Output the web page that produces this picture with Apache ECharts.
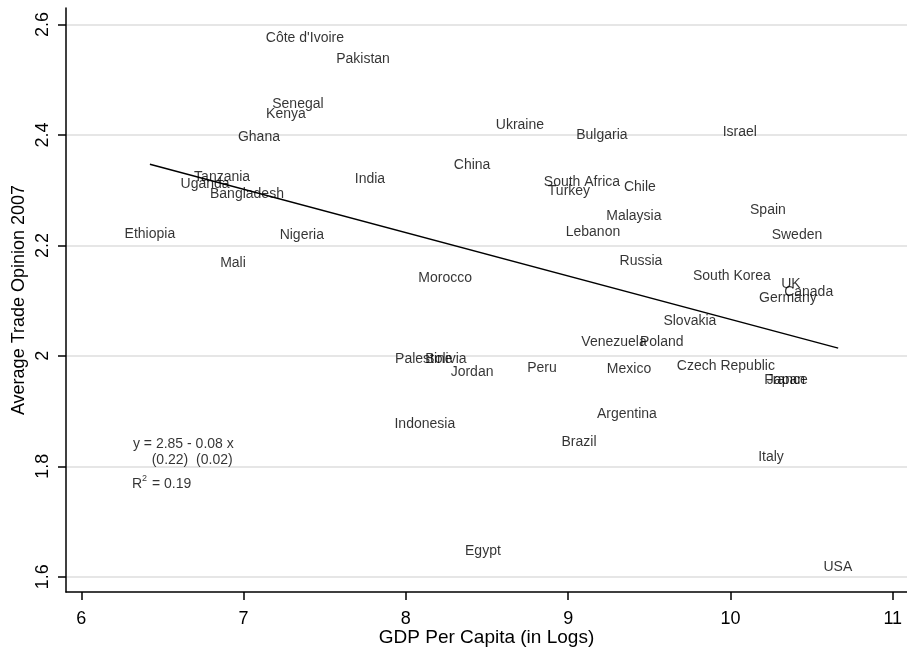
<!DOCTYPE html>
<html>
<head>
<meta charset="utf-8">
<script src="https://cdn.jsdelivr.net/npm/echarts@6/dist/echarts.min.js"></script>
<style>
html,body{margin:0;padding:0;background:#fff;}
#c{width:907px;height:651px;}
</style>
</head>
<body>
<div id="c"></div>
<script>
// Country labels (text centred on each point)
const countries = ["Côte d'Ivoire","Pakistan","Senegal","Kenya","Ghana","Tanzania","Uganda","Bangladesh","Ethiopia","Mali","Nigeria","India","China","Morocco","Ukraine","Bulgaria","Israel","South Africa","Turkey","Chile","Malaysia","Lebanon","Spain","Sweden","Russia","South Korea","UK","Canada","Germany","Slovakia","Venezuela","Poland","Czech Republic","France","Japan","Palestine","Bolivia","Jordan","Peru","Mexico","Indonesia","Argentina","Brazil","Italy","Egypt","USA"];
// GDP per capita (logs)
const gdpLog = [7.378,7.736,7.335,7.261,7.095,6.868,6.763,7.021,6.423,6.935,7.359,7.779,8.408,8.242,8.703,9.208,10.058,9.085,9.005,9.442,9.405,9.153,10.231,10.410,9.449,10.009,10.373,10.482,10.354,9.750,9.283,9.577,9.972,10.342,10.342,8.111,8.247,8.408,8.839,9.375,8.117,9.362,9.067,10.250,8.475,10.662];
// Average trade opinion 2007
const tradeOpinion = [2.578,2.540,2.458,2.440,2.398,2.326,2.313,2.295,2.223,2.169,2.221,2.322,2.348,2.143,2.420,2.402,2.407,2.317,2.300,2.307,2.255,2.226,2.266,2.221,2.174,2.147,2.132,2.118,2.107,2.065,2.027,2.027,1.984,1.958,1.958,1.995,1.995,1.973,1.980,1.978,1.879,1.897,1.846,1.819,1.649,1.620];
// Fitted line endpoints
const fitX = [6.423, 10.664];
const fitY = [2.347, 2.014];
// Axis ticks
const xTicks = [6,7,8,9,10,11];
const yTicks = [1.6,1.8,2.0,2.2,2.4,2.6];
// Regression annotation
const noteText = ["y = 2.85 - 0.08 x", "(0.22)  (0.02)", "{t|R}{s|2}{t| = 0.19}"];
const noteX = [6.3185, 6.434, 6.312];
const noteY = [1.842, 1.813, 1.771];

const FONT = "'Liberation Sans', Arial, Helvetica, sans-serif";
const chart = echarts.init(document.getElementById('c'), null, {renderer: 'canvas'});

const pts = countries.map((n, i) => ({name: n, value: [gdpLog[i], tradeOpinion[i]]}));
const notes = noteText.map((t, i) => ({name: t, value: [noteX[i], noteY[i]]}));

chart.setOption({
  animation: false,
  backgroundColor: '#ffffff',
  grid: {left: 66, right: 0, top: 8, bottom: 59, containLabel: false, outerBoundsMode: 'none'},
  xAxis: {
    type: 'value', min: 5.906, max: 11.088,
    name: 'GDP Per Capita (in Logs)', nameLocation: 'middle', nameGap: 36, nameMoveOverlap: false,
    nameTextStyle: {fontFamily: FONT, fontSize: 19, color: '#000'},
    axisLine: {show: true, onZero: false, lineStyle: {color: '#000', width: 1.5}},
    axisTick: {show: true, length: 8, lineStyle: {color: '#000', width: 1.5}, customValues: xTicks},
    axisLabel: {fontFamily: FONT, fontSize: 18, color: '#000', margin: 18, customValues: xTicks,
      formatter: v => String(Math.round(v))},
    splitLine: {show: false}
  },
  yAxis: {
    type: 'value', min: 1.5723, max: 2.630,
    name: 'Average Trade Opinion 2007', nameLocation: 'middle', nameGap: 38, nameRotate: 90, nameMoveOverlap: false,
    nameTextStyle: {fontFamily: FONT, fontSize: 18, color: '#000'},
    axisLine: {show: true, onZero: false, lineStyle: {color: '#000', width: 1.5}},
    axisTick: {show: true, length: 8, lineStyle: {color: '#000', width: 1.5}, customValues: yTicks},
    axisLabel: {fontFamily: FONT, fontSize: 18, color: '#000', margin: 14, rotate: 90, customValues: yTicks,
      formatter: v => String(Number(v.toFixed(1)))},
    splitLine: {show: false}
  },
  series: [
    {
      type: 'scatter', name: 'grid', data: [], silent: true, z: 0,
      markLine: {
        silent: true, symbol: 'none', label: {show: false}, z: 0,
        lineStyle: {color: '#e6e6e6', width: 2, type: 'solid'},
        data: yTicks.map(v => ({yAxis: v}))
      }
    },
    {
      type: 'line', name: 'fit', data: fitX.map((x, i) => [x, fitY[i]]),
      showSymbol: false, symbol: 'none',
      lineStyle: {color: '#000', width: 1.4}, z: 3
    },
    {
      type: 'scatter', name: 'countries', data: pts, symbolSize: 0, z: 4,
      label: {show: true, position: 'inside', align: 'center', verticalAlign: 'middle', offset: [0, 1],
        formatter: '{b}', fontFamily: FONT, fontSize: 14, color: '#000'}
    },
    {
      type: 'scatter', name: 'notes', data: notes, symbolSize: 0, z: 4,
      label: {show: true, position: 'inside', align: 'left', verticalAlign: 'middle', offset: [0, 1.5],
        formatter: '{b}', fontFamily: FONT, fontSize: 14, color: '#000',
        rich: {
          t: {fontFamily: FONT, fontSize: 14, color: '#000'},
          s: {fontFamily: FONT, fontSize: 9, color: '#000', padding: [0, 1, 11, 0]}
        }}
    }
  ]
});
</script>
</body>
</html>
